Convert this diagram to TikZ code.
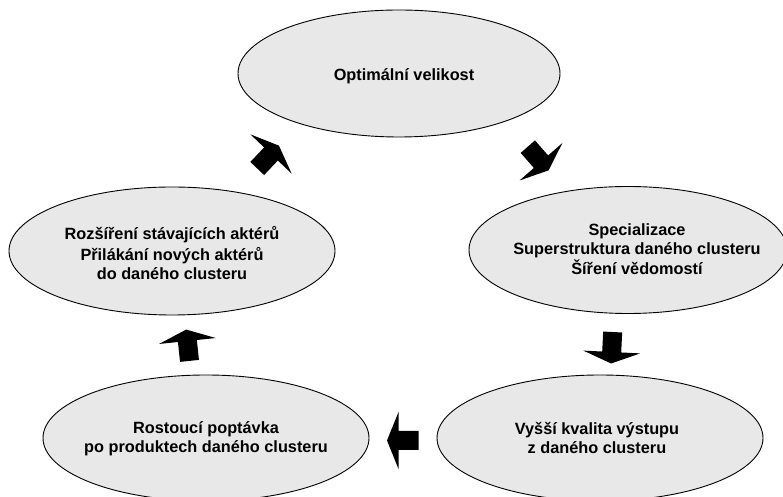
\documentclass[tikz,border=0pt]{standalone}
\usepackage{fontspec}
\setmainfont{Liberation Sans}
\usetikzlibrary{shapes.geometric}
\begin{document}
\begin{tikzpicture}[x=1pt,y=1pt,
  bubble/.style={draw=black, line width=0.9pt, fill=black!9, ellipse, inner sep=0pt},
  btext/.style={align=center, inner sep=0pt, font=\fontsize{16.3}{19.4}\selectfont\bfseries},
  blockarrow/.pic={\fill[black] (-20,-9.5) -- (0,-9.5) -- (0,-28.5) -- (11.5,0) -- (0,28.5) -- (0,9.5) -- (-20,9.5) -- cycle;}
]
\useasboundingbox (0,0) rectangle (783,497);
\begin{scope}
\clip (0,0) rectangle (783,497);
\node[bubble, minimum width=322pt, minimum height=127pt] (top) at (399,423.5) {};
\node[bubble, minimum width=318pt, minimum height=127pt] (right) at (628,247) {};
\node[bubble, minimum width=326pt, minimum height=128pt] (left) at (172,246) {};
\node[bubble, minimum width=326pt, minimum height=126pt] (bl) at (206,59) {};
\node[bubble, minimum width=326pt, minimum height=126pt] (br) at (600,59) {};
\end{scope}
\node[btext] (toptext) at ([xshift=5pt,yshift=-3pt]top.center) {Optimální velikost};
\node[btext] (righttext) at ([xshift=9pt,yshift=1pt]right.center) {Specializace\\Superstruktura daného clusteru\\Šíření vědomostí};
\node[btext] (lefttext) at ([yshift=-2pt]left.center) {Rozšíření stávajících aktérů\\[2pt]Přilákání nových aktérů\\do daného clusteru};
\node[btext] (bltext) at ([yshift=-1pt]bl.center) {Rostoucí poptávka\\po produktech daného clusteru};
\node[btext] (brtext) at ([xshift=-3pt]br.center) {Vyšší kvalita výstupu\\z daného clusteru};
\coordinate (a1) at (271,343);
\coordinate (a2) at (541,335.3);
\coordinate (a3) at (611.7,145);
\coordinate (a4) at (398.5,56.5);
\coordinate (a5) at (187.4,156);
\pic[rotate=46.4] at (a1) {blockarrow};
\pic[rotate=-48.8] at (a2) {blockarrow};
\pic[rotate=-92.8] at (a3) {blockarrow};
\pic[rotate=180] at (a4) {blockarrow};
\pic[rotate=96] at (a5) {blockarrow};
\end{tikzpicture}
\end{document}
